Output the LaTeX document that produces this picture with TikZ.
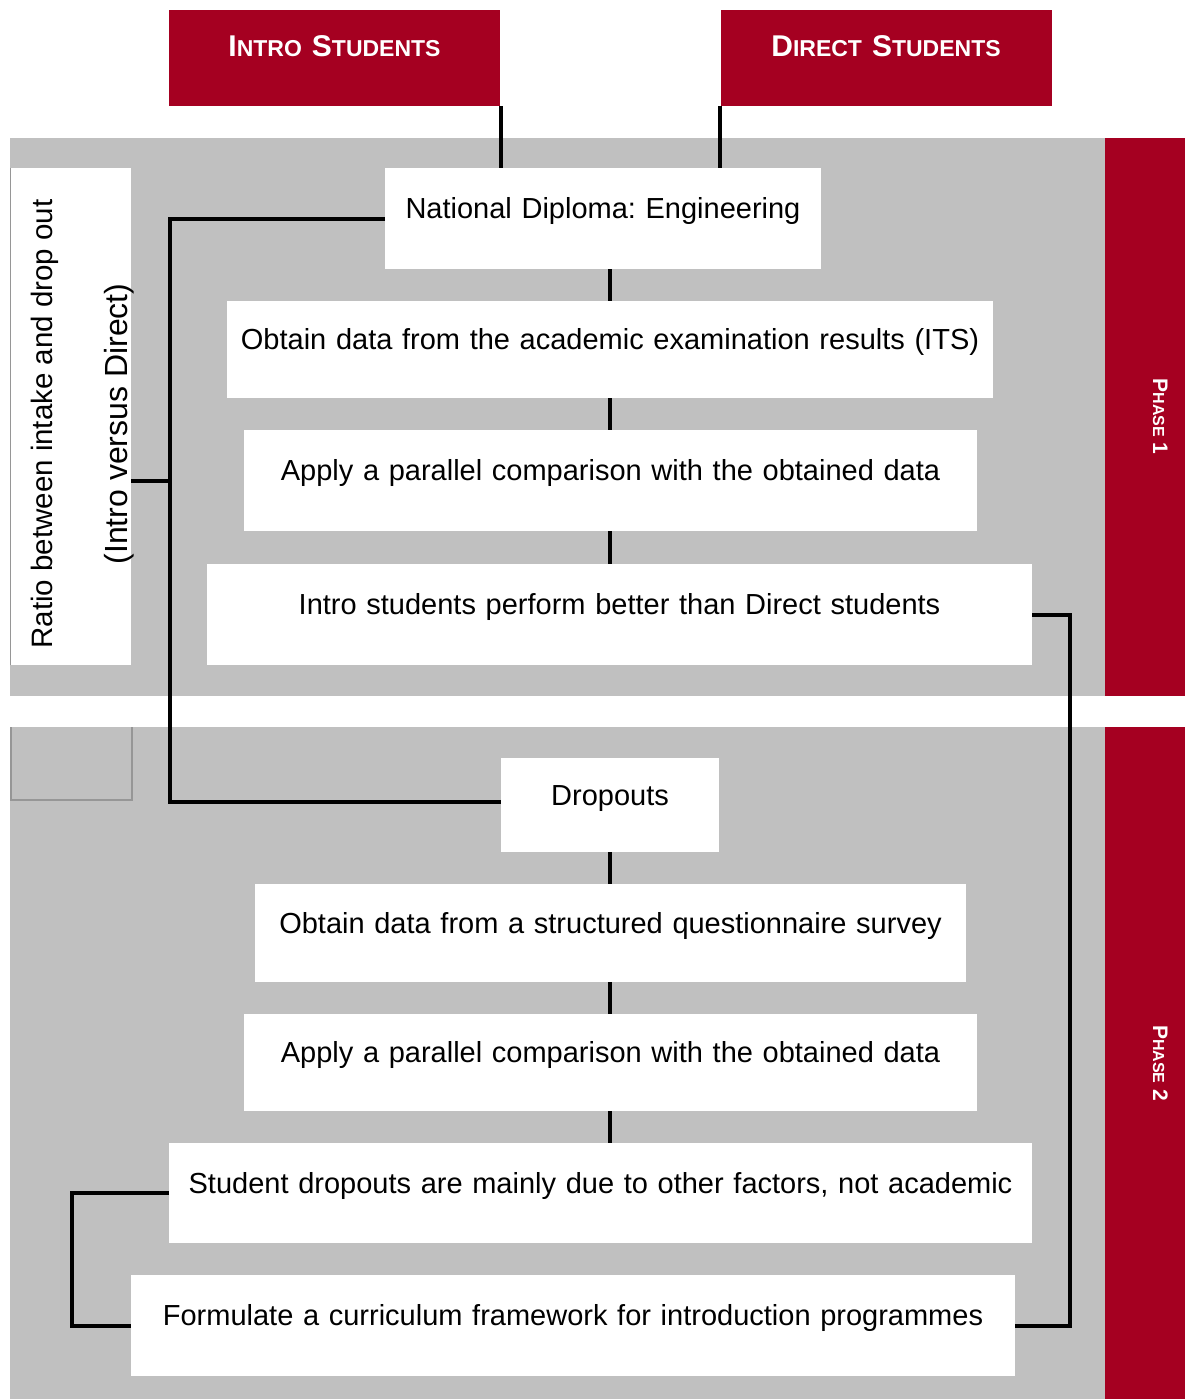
\documentclass[tikz,border=0pt]{standalone}
\usepackage{fontspec}
\setmainfont{Liberation Sans}
\frenchspacing
\definecolor{unired}{RGB}{165,0,33}
\definecolor{panelgray}{RGB}{192,192,192}
\definecolor{edgegray}{RGB}{150,150,150}
\newcommand\capsword[2]{{\fontsize{30}{36}\selectfont #1}{\fontsize{23}{28}\selectfont #2}}
\begin{document}
\begin{tikzpicture}[x=1pt,y=-1pt,
  stepbox/.style n args={3}{fill=white, inner sep=0pt, text width=#1, align=center,
    text height=#2, text depth=#3, font=\fontsize{29}{35}\selectfont},
  headbox/.style={fill=unired, text=white, inner sep=0pt, text width=331pt, align=center,
    text height=47pt, text depth=49pt, font=\bfseries\fontsize{30}{36}\selectfont},
  phaselabel/.style={text=white, inner sep=0pt, rotate=-90, anchor=base,
    font=\bfseries\fontsize{21}{25}\selectfont},
  sidelabel/.style={inner sep=0pt, rotate=90, anchor=base},
  link/.style={line width=4pt, draw=black, line join=miter}]
\useasboundingbox (0,0) rectangle (1185,1399);

% panels and phase bands
\fill[panelgray] (10,138) rectangle (1105,696);
\fill[panelgray] (10,727) rectangle (1105,1399);
\fill[unired] (1105,138) rectangle (1185,696);
\fill[unired] (1105,727) rectangle (1185,1399);
\node[phaselabel] (ph1) at (1153,416.5) {P{\fontsize{16}{19}\selectfont HASE} 1};
\node[phaselabel] (ph2) at (1153,1063) {P{\fontsize{16}{19}\selectfont HASE} 2};

% header boxes
\node[headbox] (intro) at (334.5,58) {\capsword{I}{NTRO} \capsword{S}{TUDENTS}};
\node[headbox] (direct) at (886,58) {\capsword{D}{IRECT} \capsword{S}{TUDENTS}};

% side label box
\node[fill=white, inner sep=0pt, minimum width=120pt, minimum height=497pt] (ratiobox) at (71,416.5) {};
\draw[edgegray, line width=1.2pt] (ratiobox.north west) -- (ratiobox.south west);
\node[sidelabel, font=\fontsize{29.5}{35}\selectfont] (ratio1) at (52,424) {Ratio between intake and drop out};
\node[sidelabel, font=\fontsize{32}{38}\selectfont] (ratio2) at (127,424) {(Intro versus Direct)};
\draw[edgegray, line width=1.2pt] (11,727) |- (132,800) -- (132,727);

% phase 1 steps
\node[stepbox={436pt}{50.5pt}{50.5pt}] (nd) at (603,218.5) {National Diploma: Engineering};
\node[stepbox={766pt}{48.5pt}{48.5pt}] (its) at (610,349.5) {Obtain data from the academic examination results (ITS)};
\node[stepbox={733pt}{50.5pt}{50.5pt}] (cmp1) at (610.5,480.5) {Apply a parallel comparison with the obtained data};
\node[stepbox={825pt}{50.5pt}{50.5pt}] (better) at (619.5,614.5) {Intro students perform better than Direct students};

% phase 2 steps
\node[stepbox={218pt}{47pt}{47pt}] (drop) at (610,805) {Dropouts};
\node[stepbox={711pt}{49pt}{49pt}] (quest) at (610.5,933) {Obtain data from a structured questionnaire survey};
\node[stepbox={733pt}{48.5pt}{48.5pt}] (cmp2) at (610.5,1062.5) {Apply a parallel comparison with the obtained data};
\node[stepbox={863pt}{50pt}{50pt}] (factors) at (600.5,1193) {Student dropouts are mainly due to other factors, not academic};
\node[stepbox={884pt}{50.5pt}{50.5pt}] (frame) at (573,1325.5) {Formulate a curriculum framework for introduction programmes};

% connectors
\draw[link] ([xshift=1pt]intro.south east) -- ([xshift=1pt]intro.south east |- nd.north);
\draw[link] (direct.south west) -- (direct.south west |- nd.north);
\draw[link] (its.north) -- (its.north |- nd.south);
\draw[link] (its.south) -- (its.south |- cmp1.north);
\draw[link] (its.south |- cmp1.south) -- (its.south |- better.north);
\draw[link] (drop.south) -- (drop.south |- quest.north);
\draw[link] (drop.south |- quest.south) -- (drop.south |- cmp2.north);
\draw[link] (drop.south |- cmp2.south) -- (drop.south |- factors.north);

\coordinate (lx) at (170,481);
\coordinate (rx) at (1070,614);
\coordinate (bx) at (72,1193);
\coordinate (dropin) at ([yshift=3pt]drop.west);
\draw[link] (nd.west) -| (lx |- dropin) -- (dropin);
\draw[link] (ratiobox.east |- lx) -- (lx);
\draw[link] (better.east) -| (rx |- frame.east) -- (frame.east);
\draw[link] (factors.west) -| (bx |- frame.west) -- (frame.west);
\end{tikzpicture}
\end{document}
